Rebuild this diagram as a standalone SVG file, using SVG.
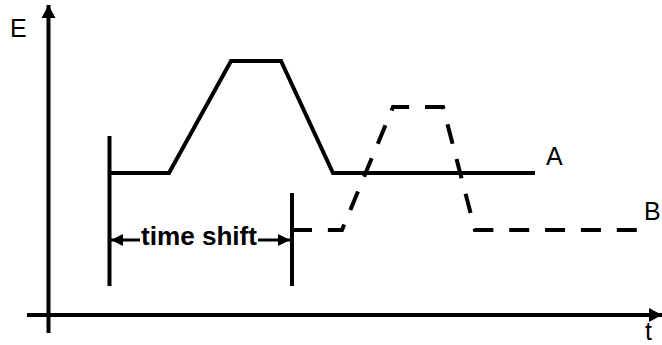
<svg xmlns="http://www.w3.org/2000/svg" width="662" height="345" viewBox="0 0 662 345">
  <style>
    .axis { stroke: #000; stroke-width: 4; fill: none; }
    .curve { stroke: #000; stroke-width: 4; fill: none; stroke-linejoin: miter; }
    .dash { stroke-dasharray: 20 15.86; }
    .mark { stroke: #000; stroke-width: 4; fill: none; }
    .dim { stroke: #000; stroke-width: 3; fill: none; }
    .lbl { font-family: "Liberation Sans", Arial, sans-serif; font-size: 25px; fill: #000; }
    .bold { font-family: "Liberation Sans", Arial, sans-serif; font-size: 26px; font-weight: bold; fill: #000; }
  </style>
  <defs>
    <marker id="axisHead" markerUnits="userSpaceOnUse" markerWidth="14" markerHeight="16" refX="13" refY="7" orient="auto" viewBox="0 0 14 14">
      <path d="M0,0 L13,7 L0,14 Z" fill="#000"/>
    </marker>
    <marker id="dimHead" markerUnits="userSpaceOnUse" markerWidth="13" markerHeight="13" refX="12" refY="6" orient="auto" viewBox="0 0 13 12">
      <path d="M0,0 L12,6 L0,12 Z" fill="#000"/>
    </marker>
  </defs>
  <rect width="662" height="345" fill="#fff"/>
  <g id="axes">
    <line class="axis" x1="48.5" y1="333" x2="48.5" y2="5" marker-end="url(#axisHead)"/>
    <line class="axis" x1="27" y1="315" x2="662" y2="315" marker-end="url(#axisHead)"/>
  </g>
  <g id="curve-A">
    <polyline class="curve" points="109,173 169,173 231,61 281,61 333,173 535,173"/>
  </g>
  <g id="curve-B">
    <polyline class="curve dash" points="292,230 342,230 393,107 443,107 475,230 637,230"/>
  </g>
  <g id="connectors">
    <line class="mark" x1="109.5" y1="136" x2="109.5" y2="286"/>
    <line class="mark" x1="292" y1="193" x2="292" y2="286"/>
    <line class="dim" x1="140" y1="240" x2="111" y2="240" marker-end="url(#dimHead)"/>
    <line class="dim" x1="258" y1="240" x2="290" y2="240" marker-end="url(#dimHead)"/>
  </g>
  <g id="labels">
    <text class="lbl" x="10" y="37">E</text>
    <text class="lbl" x="546" y="165">A</text>
    <text class="lbl" x="644" y="220">B</text>
    <text class="lbl" x="645" y="340">t</text>
    <text class="bold" x="141" y="245" textLength="116" lengthAdjust="spacingAndGlyphs">time shift</text>
  </g>
</svg>
